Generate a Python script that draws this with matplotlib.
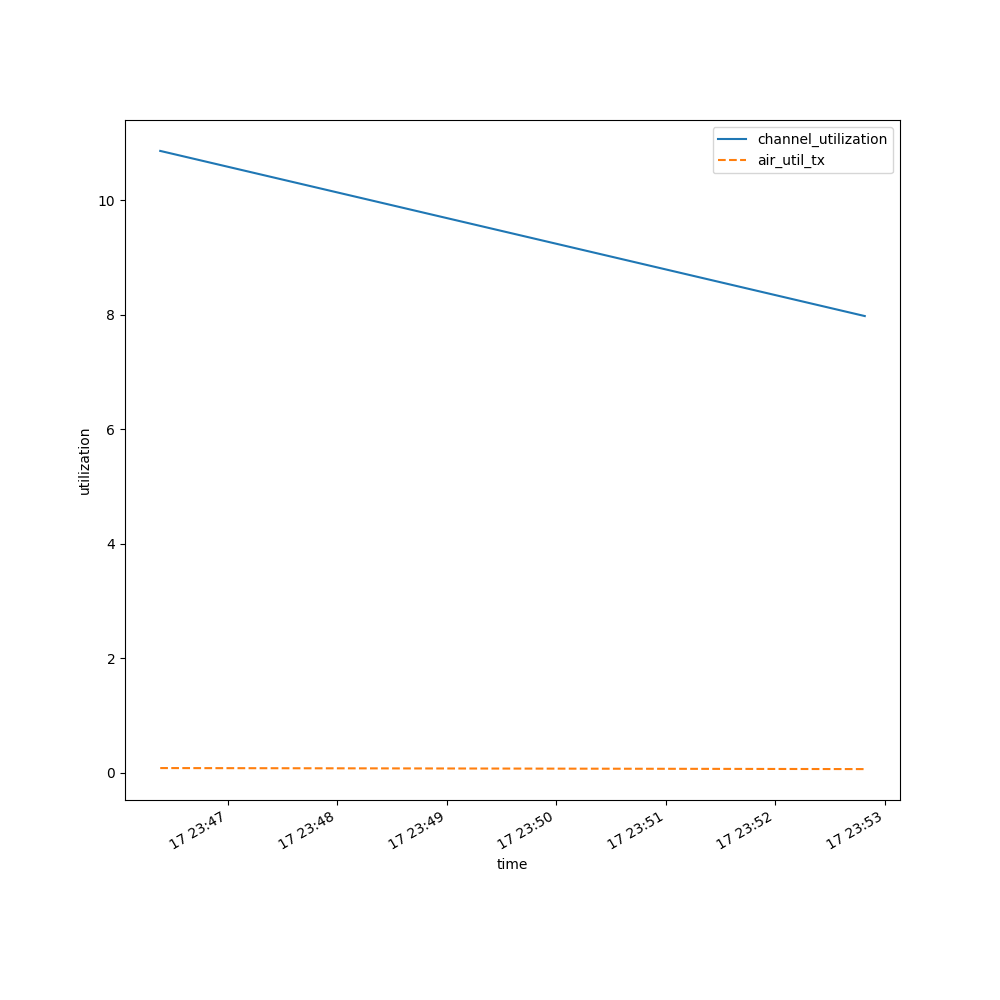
import pandas as pd
import matplotlib
matplotlib.use('Agg')
import matplotlib.pyplot as plt

# Datos
times = ['2024-03-17 23:46:23', '2024-03-17 23:52:49']
channel_utilization = [10.86, 7.975]
air_util_tx = [0.079, 0.061]

data = pd.DataFrame({
    'time': pd.to_datetime(times),
    'channel_utilization': channel_utilization,
    'air_util_tx': air_util_tx,
})

fig, ax = plt.subplots(figsize=(10, 10))
ax.plot(data['time'], data['channel_utilization'], '-', label='channel_utilization')
ax.plot(data['time'], data['air_util_tx'], '--', label='air_util_tx')
ax.set_xlabel('time')
ax.set_ylabel('utilization')
ax.legend()
fig.autofmt_xdate()

fig.savefig('out.png', dpi=100)
